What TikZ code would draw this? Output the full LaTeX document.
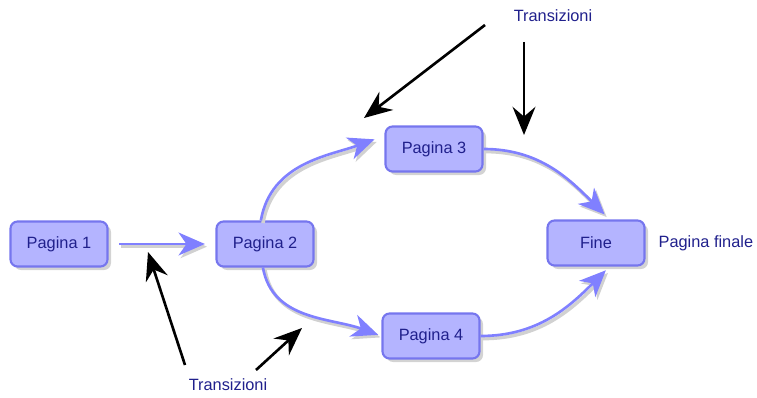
\documentclass[tikz,border=0pt]{standalone}
\usepackage{fontspec}
\setmainfont{Liberation Sans}
\usepackage{tikz}
\usetikzlibrary{arrows.meta, positioning, calc, shadows}
\definecolor{PageFill}{RGB}{180, 180, 255}
\definecolor{PageDraw}{RGB}{118, 118, 238}
\definecolor{LinkBlue}{RGB}{128, 128, 255}
\definecolor{TextNavy}{RGB}{32, 32, 140}

\begin{document}
\begin{tikzpicture}[
    x=0.02cm, y=-0.02cm,
    page/.style={rectangle, draw=PageDraw, line width=1.2pt, fill=PageFill, rounded corners=4pt, minimum width=1.94cm, minimum height=0.9cm, align=center, text=TextNavy, font=\fontsize{9.3}{11}\selectfont, drop shadow={opacity=0.35, shadow xshift=2pt, shadow yshift=-2pt}},
    note/.style={text=TextNavy, font=\fontsize{9.3}{11}\selectfont, inner sep=1pt},
    link/.style={-{Stealth[length=15pt, width=13pt, inset=4.5pt]}, draw=LinkBlue, line width=1.5pt,
        preaction={draw=black!18, line width=2pt, transform canvas={xshift=1.2pt, yshift=-1.5pt}}},
    hint/.style={-{Stealth[length=16pt, width=13pt, inset=5.5pt]}, line width=1.5pt, black}
]
    \useasboundingbox (0,0) rectangle (757,398);

    % Pagine
    \node[page] (pag1) at (59,244) {Pagina 1};
    \node[page] (pag2) at (265,244) {Pagina 2};
    \node[page] (pag3) at (434,149) {Pagina 3};
    \node[page] (pag4) at (431,336) {Pagina 4};
    \node[page] (fine) at (596,243) {Fine};
    \node[note, right=0.22cm of fine] (finale) {Pagina finale};

    % Etichette
    \node[note] (transTop) at (553,16) {Transizioni};
    \node[note] (transBot) at (228,385) {Transizioni};

    % Transizioni blu
    \draw[link, shorten <=6pt, shorten >=6pt] (pag1.east) -- (pag2.west);
    \draw[link, shorten >=6pt] (pag2.100) to[out=80, in=200] (pag3.165);
    \draw[link, shorten >=4pt] (pag3.east) to[out=0, in=135] (fine.60);
    \draw[link, shorten >=2pt] (pag2.-95) to[out=-80, in=160] (pag4.west);
    \draw[link, shorten >=3pt] (pag4.east) to[out=0, in=225] (fine.-60);

    % Frecce nere
    \coordinate (t1) at (485,25);
    \coordinate (t2) at (524,42);
    \coordinate (b1) at (185,365);
    \coordinate (b2) at (256,370);
    \coordinate (t1end) at (364,118);
    \coordinate (t2end) at (524,135);
    \coordinate (b1end) at (148,252);
    \coordinate (b2end) at (302,328);
    \draw[hint] (t1) -- (t1end);
    \draw[hint] (t2) -- (t2end);
    \draw[hint] (b1) -- (b1end);
    \draw[hint] (b2) -- (b2end);
\end{tikzpicture}
\end{document}
